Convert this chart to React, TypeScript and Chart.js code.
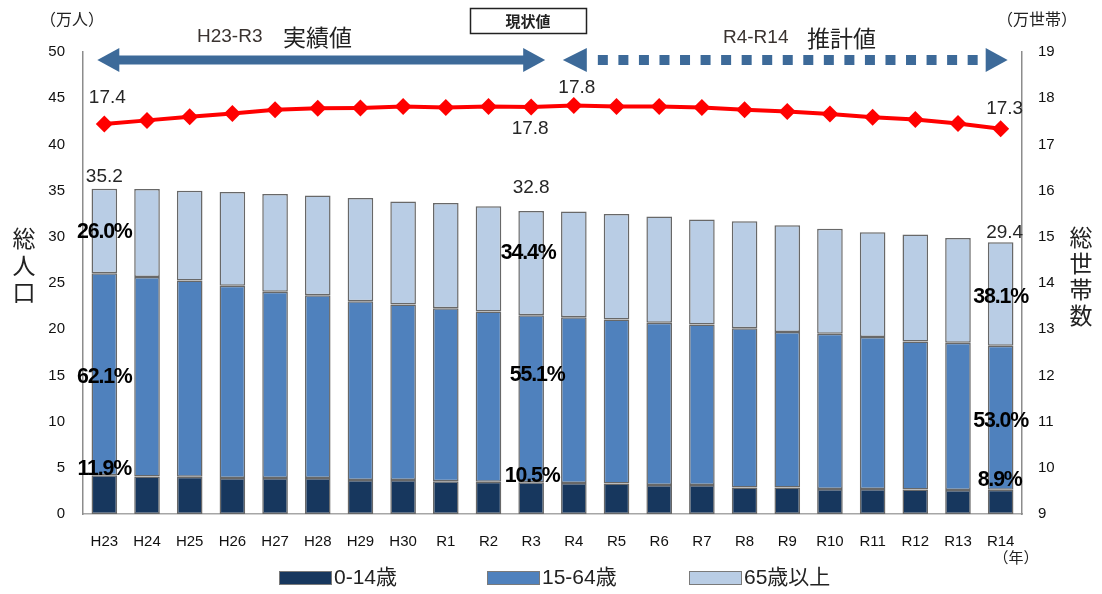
import React, { useEffect, useRef } from "react";
import { Chart, registerables } from "chart.js";

Chart.register(...registerables);

// ---- data ----
const years = ["H23", "H24", "H25", "H26", "H27", "H28", "H29", "H30", "R1", "R2", "R3", "R4", "R5", "R6", "R7", "R8", "R9", "R10", "R11", "R12", "R13", "R14"];

// population by age group (万人)
const age0to14 = [4.19, 4.06, 4.03, 3.89, 3.89, 3.89, 3.67, 3.67, 3.55, 3.49, 3.44, 3.35, 3.3, 3.13, 3.13, 2.88, 2.88, 2.7, 2.7, 2.66, 2.6, 2.62];
const age15to64 = [21.86, 21.6, 21.24, 20.8, 20.15, 19.79, 19.36, 19.01, 18.72, 18.43, 18.07, 17.95, 17.76, 17.57, 17.39, 17.21, 16.81, 16.8, 16.45, 16.0, 15.93, 15.58];
const age65plus = [9.15, 9.5, 9.72, 10.15, 10.58, 10.8, 11.16, 11.15, 11.38, 11.38, 11.29, 11.45, 11.4, 11.51, 11.34, 11.58, 11.55, 11.38, 11.34, 11.58, 11.34, 11.2];

// total households (万世帯)
const households = [17.44, 17.52, 17.6, 17.67, 17.75, 17.78, 17.79, 17.82, 17.8, 17.82, 17.81, 17.84, 17.82, 17.82, 17.8, 17.75, 17.71, 17.66, 17.59, 17.54, 17.45, 17.34];

const seriesNames = ["0-14歳", "15-64歳", "65歳以上"];
const seriesColors = ["#17375e", "#4f81bd", "#b9cde5"];

// years whose composition ratios and totals are annotated
const annotatedYears = ["H23", "R3", "R14"];
// years whose household counts are annotated
const annotatedHouseholdYears = ["H23", "R3", "R4", "R14"];

const SANS = '"Liberation Sans", "Noto Sans CJK JP", sans-serif';
const CJK = '"Noto Sans CJK JP", "Liberation Sans", sans-serif';
Chart.defaults.font.family = SANS;

// label offsets (px) for the annotated bars: [0-14, 15-64, 65+]
const pctOffsets: Record<string, { dx: number[]; dy: number[]; tdx: number; tdy: number }> = {
  H23: { dx: [0, 0, 0], dy: [-26, 3, 1], tdx: 0, tdy: -12 },
  R3: { dx: [1, 6, -3], dy: [-22, -24, -10], tdx: 0, tdy: -23 },
  R14: { dx: [-1, 0, 0], dy: [-22, 3, 3], tdx: 4, tdy: -10 },
};
const lineLabelOffsets: Record<string, { dx: number; dy: number }> = {
  H23: { dx: 3, dy: -26 },
  R3: { dx: -1, dy: 22 },
  R4: { dx: 3, dy: -18 },
  R14: { dx: 4, dy: -20 },
};

function drawText(
  ctx: CanvasRenderingContext2D,
  str: string,
  x: number,
  y: number,
  font: string,
  color = "#1f1f1f",
  align: CanvasTextAlign = "center",
  squeeze = 1,
  spacing = "0px"
) {
  ctx.save();
  ctx.font = font;
  ctx.fillStyle = color;
  ctx.textAlign = align;
  ctx.textBaseline = "middle";
  (ctx as any).letterSpacing = spacing;
  ctx.translate(x, y);
  ctx.scale(squeeze, 1);
  ctx.fillText(str, 0, 0);
  ctx.restore();
}

function arrowHead(ctx: CanvasRenderingContext2D, tipX: number, y: number, dir: number, len: number, half: number) {
  ctx.beginPath();
  ctx.moveTo(tipX, y);
  ctx.lineTo(tipX - dir * len, y - half);
  ctx.lineTo(tipX - dir * len, y + half);
  ctx.closePath();
  ctx.fill();
}

const overlay = {
  id: "overlay",
  afterDatasetsDraw(chart: any) {
    const ctx: CanvasRenderingContext2D = chart.ctx;
    const xs = chart.scales.x;

    // composition ratios and totals
    annotatedYears.forEach((yr) => {
      const i = years.indexOf(yr);
      const parts = [age0to14[i], age15to64[i], age65plus[i]];
      const total = parts[0] + parts[1] + parts[2];
      const off = pctOffsets[yr];
      parts.forEach((v, s) => {
        const el = chart.getDatasetMeta(s + 1).data[i];
        const cy = (el.y + el.base) / 2;
        const pct = ((v / total) * 100).toFixed(1) + "%";
        drawText(ctx, pct, el.x + off.dx[s], cy + off.dy[s], `bold 22px ${SANS}`, "#000", "center", 0.97, "-1.2px");
      });
      const top = chart.getDatasetMeta(3).data[i];
      drawText(ctx, total.toFixed(1), top.x + off.tdx, top.y + off.tdy, `19px ${SANS}`, "#262626");
    });

    // household labels
    annotatedHouseholdYears.forEach((yr) => {
      const i = years.indexOf(yr);
      const pt = chart.getDatasetMeta(0).data[i];
      const o = lineLabelOffsets[yr];
      drawText(ctx, households[i].toFixed(1), pt.x + o.dx, pt.y + o.dy, `19px ${SANS}`, "#262626");
    });

    // period arrows
    const arrowY = 60;
    ctx.save();
    ctx.fillStyle = "#3d6a99";
    const aL = xs.getPixelForValue(0) - 7;
    const aR = xs.getPixelForValue(10) + 14;
    arrowHead(ctx, aL, arrowY, -1, 22, 12);
    arrowHead(ctx, aR, arrowY, 1, 22, 12);
    ctx.fillRect(aL + 20, arrowY - 4.5, aR - aL - 40, 9);
    const bL = xs.getPixelForValue(11) - 11;
    const bR = xs.getPixelForValue(21) + 7;
    arrowHead(ctx, bL, arrowY, -1, 24, 12);
    arrowHead(ctx, bR, arrowY, 1, 22, 12);
    const dotsStart = bL + 35;
    const dotsEnd = bR - 30;
    const nDots = 19;
    const step = (dotsEnd - dotsStart - 10) / (nDots - 1);
    for (let k = 0; k < nDots; k++) {
      ctx.fillRect(dotsStart + k * step, arrowY - 5, 10, 10);
    }
    ctx.restore();

    // period captions
    drawText(ctx, "H23-R3", 197, 37, `19px ${SANS}`, "#3a3330", "left");
    drawText(ctx, "実績値", 283, 37, `23px ${CJK}`, "#222", "left");
    drawText(ctx, "R4-R14", 723, 38, `19px ${SANS}`, "#3a3330", "left");
    drawText(ctx, "推計値", 807, 38, `23px ${CJK}`, "#222", "left");

    // current-value box
    ctx.save();
    ctx.strokeStyle = "#222";
    ctx.lineWidth = 1.5;
    ctx.strokeRect(470.5, 8.5, 116, 25);
    ctx.restore();
    drawText(ctx, "現状値", 528, 21, `bold 15px ${CJK}`, "#222");

    // units
    drawText(ctx, "（万人）", 72, 19, `16px ${CJK}`, "#222");
    drawText(ctx, "（万世帯）", 1037, 19, `16px ${CJK}`, "#222");
    drawText(ctx, "（年）", 1016, 557, `15px ${CJK}`, "#222");

    // vertical axis titles
    ["総", "人", "口"].forEach((c, k) => drawText(ctx, c, 24, 238 + k * 27, `23px ${CJK}`, "#222"));
    ["総", "世", "帯", "数"].forEach((c, k) => drawText(ctx, c, 1081, 237 + k * 26, `23px ${CJK}`, "#222"));

    // legend
    const legendX = [279, 487, 689];
    seriesNames.forEach((name, s) => {
      const x = legendX[s];
      ctx.save();
      ctx.fillStyle = seriesColors[s];
      ctx.fillRect(x, 571, 53, 14);
      ctx.strokeStyle = "#7a7a7a";
      ctx.lineWidth = 1;
      ctx.strokeRect(x + 0.5, 571.5, 52, 13);
      ctx.restore();
      drawText(ctx, name, x + 55, 578, `21px ${SANS}`, "#222", "left");
    });
  },
};

export default function App() {
  const ref = useRef<HTMLCanvasElement | null>(null);

  useEffect(() => {
    if (!ref.current) return;
    const barStyle = {
      borderColor: "#686868",
      borderWidth: 1.5,
      borderSkipped: false as const,
      order: 1,
      yAxisID: "y",
      categoryPercentage: 1,
      barPercentage: 0.6,
    };
    const chart = new Chart(ref.current, {
      type: "bar",
      data: {
        labels: years,
        datasets: [
          {
            type: "line",
            label: "総世帯数",
            data: households,
            yAxisID: "y1",
            borderColor: "#ff0000",
            backgroundColor: "#ff0000",
            borderWidth: 4,
            pointStyle: "rectRot",
            pointRadius: 8.5,
            pointBorderWidth: 0,
            pointBackgroundColor: "#ff0000",
            tension: 0,
            order: 0,
          } as any,
          { ...barStyle, label: seriesNames[0], data: age0to14, backgroundColor: seriesColors[0] },
          { ...barStyle, label: seriesNames[1], data: age15to64, backgroundColor: seriesColors[1] },
          { ...barStyle, label: seriesNames[2], data: age65plus, backgroundColor: seriesColors[2] },
        ],
      },
      options: {
        responsive: false,
        animation: false,
        layout: { padding: { top: 52, left: 0, right: 0, bottom: 0 } },
        plugins: { legend: { display: false }, tooltip: { enabled: false } },
        scales: {
          x: {
            stacked: true,
            grid: { display: false, drawTicks: false },
            border: { color: "#a6a6a6", width: 1.5 },
            ticks: { autoSkip: false, maxRotation: 0, padding: 19, font: { size: 15 }, color: "#111" },
            afterFit: (s: any) => {
              s.height = 80;
            },
          },
          y: {
            stacked: true,
            position: "left",
            min: 0,
            max: 50,
            ticks: { stepSize: 5, padding: 18, font: { size: 15 }, color: "#111" },
            grid: { display: false, drawTicks: false },
            border: { color: "#8c8c8c", width: 1.5 },
            afterFit: (s: any) => {
              s.width = 83;
            },
          },
          y1: {
            position: "right",
            min: 9,
            max: 19,
            ticks: { stepSize: 1, padding: 16, font: { size: 15 }, color: "#111" },
            grid: { display: false, drawTicks: false },
            border: { color: "#8c8c8c", width: 1.5 },
            afterFit: (s: any) => {
              s.width = 80;
            },
          },
        },
      } as any,
      plugins: [overlay],
    });
    return () => chart.destroy();
  }, []);

  return (
    <div style={{ position: "absolute", left: 0, top: 0, width: 1102, height: 594, background: "#fff" }}>
      <canvas ref={ref} width={1102} height={594} style={{ width: 1102, height: 594, display: "block" }} />
    </div>
  );
}
